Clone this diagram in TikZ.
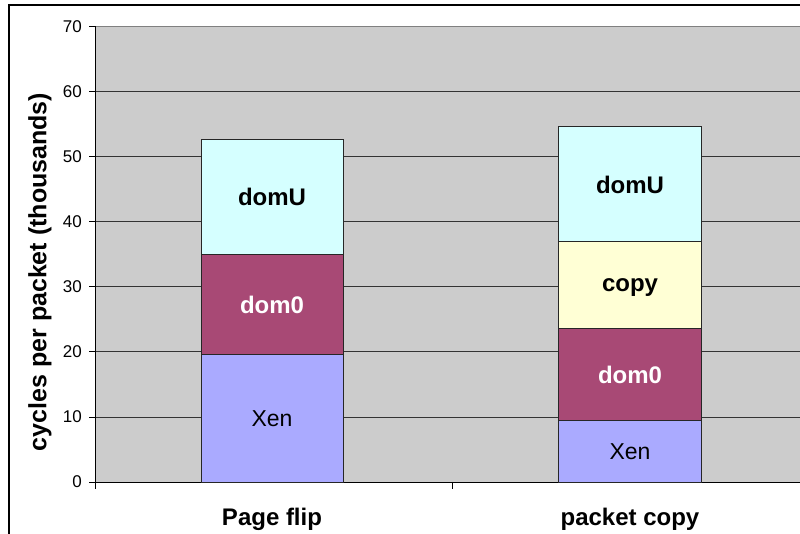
\documentclass[tikz,border=0pt]{standalone}
\usepackage{fontspec}
\setmainfont{Liberation Sans}
\usepackage{xcolor}
\usetikzlibrary{positioning}

\definecolor{plotbg}{RGB}{204,204,204}
\definecolor{xencol}{RGB}{170,170,255}
\definecolor{domzcol}{RGB}{168,73,117}
\definecolor{domucol}{RGB}{213,255,255}
\definecolor{copycol}{RGB}{255,255,213}

\begin{document}
\begin{tikzpicture}[x=1pt,y=1pt,
    seg/.style={draw=black!85, line width=0.8pt},
    barlbl/.style={font=\fontsize{24}{24}\selectfont\bfseries, text depth=0pt},
    tick/.style={font=\fontsize{17}{17}\selectfont, anchor=east, inner sep=0pt},
    catlbl/.style={font=\fontsize{24}{24}\selectfont\bfseries}]
    \useasboundingbox (0,0) rectangle (800,534);
    \clip (0,0) rectangle (800,534);
    % chart frame
    \draw[line width=2pt] (9,-20) -- (9,529) -- (820,529);
    \begin{scope}[yshift=52pt, y=6.507pt]
        % plot area and grid
        \fill[plotbg] (95,0) rectangle (820,70);
        \foreach \v in {10,20,...,60}
            \draw[black!80, line width=0.8pt] (95,\v) -- (820,\v);
        \draw[gray, line width=1pt] (95,70) -- (820,70);
        \draw[line width=0.8pt] (95,70) -- (95,0) -- (820,0);
        \foreach \v in {0,10,...,70} {
            \draw[line width=0.8pt] (89,\v) -- (95,\v);
            \node[tick] (t\v) at (82,\v) {\v};
        }
        \foreach \x in {95,452}
            \draw[line width=0.8pt] (\x,0) -- ++(0,-7pt);
        % Page flip
        \draw[seg, fill=xencol] (201,0) rectangle (343,19.6);
        \draw[seg, fill=domzcol] (201,19.6) rectangle (343,35);
        \draw[seg, fill=domucol] (201,35) rectangle (343,52.6);
        \node[font=\fontsize{23}{23}\selectfont] (pfxen) at (272,9.8) {Xen};
        \node[barlbl, white] (pfdomz) at (272,27.3) {dom0};
        \node[barlbl] (pfdomu) at (272,43.8) {domU};
        % packet copy
        \draw[seg, fill=xencol] (558,0) rectangle (701,9.4);
        \draw[seg, fill=domzcol] (558,9.4) rectangle (701,23.6);
        \draw[seg, fill=copycol] (558,23.6) rectangle (701,36.9);
        \draw[seg, fill=domucol] (558,36.9) rectangle (701,54.6);
        \node[font=\fontsize{23}{23}\selectfont] (pcxen) at (630,4.7) {Xen};
        \node[barlbl, white] (pcdomz) at (630,16.5) {dom0};
        \node[barlbl] (pccopy) at (630,30.2) {copy};
        \node[barlbl] (pcdomu) at (630,45.7) {domU};
    \end{scope}
    % axis labels
    \node[rotate=90, font=\fontsize{25}{25}\selectfont\bfseries] (ylbl) at (40,262) {cycles per packet (thousands)};
    \node[catlbl] (pflip) at (272,15) {Page flip};
    \node[catlbl] (pcopy) at (630,15) {packet copy};
\end{tikzpicture}
\end{document}
